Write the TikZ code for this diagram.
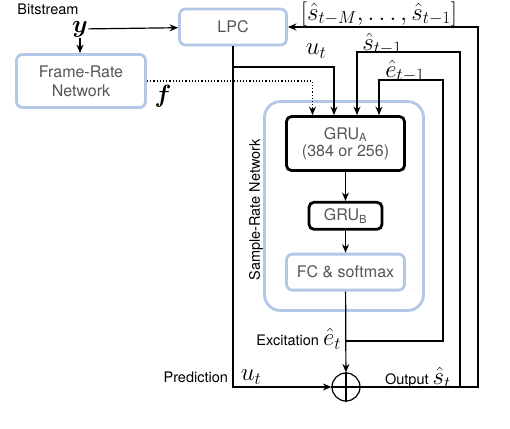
\documentclass[tikz,border=0pt]{standalone}
\usepackage{amsmath}
\usepackage{amssymb}
\usepackage{bm}
\usepackage{fontspec}
\setmainfont{TeX Gyre Heros}
\usetikzlibrary{positioning}
\usetikzlibrary{arrows.meta}
\definecolor{netblue}{RGB}{180,199,231}
\definecolor{nettext}{RGB}{85,85,85}
\newcommand{\symsize}{\fontsize{23.5}{25}\selectfont}
\begin{document}
\begin{tikzpicture}[x=1pt,y=-1pt,>={Stealth[length=8.5pt,width=7pt]},line width=1.2pt,
	node distance=29pt,
	blue box/.style={draw=netblue,line width=2.8pt,rounded corners=6pt,text=nettext,
		font=\fontsize{16}{19}\selectfont,align=center,inner sep=0pt},
	black box/.style={draw=black,line width=2.8pt,rounded corners=5pt,text=nettext,
		font=\fontsize{16}{19}\selectfont,align=center,inner sep=0pt},
	word/.style={font=\fontsize{14.5}{17}\selectfont,inner sep=0.5pt},
	sym/.style={font=\symsize,inner sep=0pt}]

	\useasboundingbox (0,0) rectangle (510,428);

	% boxes
	\node[blue box,minimum width=107pt,minimum height=36pt] (lpc) at (233,27) {LPC};
	\node[blue box,minimum width=129pt,minimum height=53pt] (frn) at (81,81) {Frame-Rate\\Network};
	\node[blue box,rounded corners=16pt,minimum width=159pt,minimum height=209pt] (srn) at (344,206) {};
	\node[black box,minimum width=118pt,minimum height=54pt] (grua) at (345.5,143.5)
		{GRU\textsubscript{A}\\[-2pt](384 or 256)};
	\node[black box,minimum width=73pt,minimum height=27pt] (grub) [below=of grua] {GRU\textsubscript{B}};
	\node[blue box,minimum width=118pt,minimum height=36pt] (fc) [below=22pt of grub] {FC \& softmax};
	\node[draw,circle,minimum size=28pt,inner sep=0pt] (sum) at (346,387) {};
	\draw (sum.north) -- (sum.south) (sum.west) -- (sum.east);

	% labels
	\node[word] (bits) at (48,9) {Bitstream};
	\node[sym] (y) at (80,29) {$\bm{y}$};
	\node[sym] (f) at (163,96) {$\bm{f}$};
	\node[word,rotate=90] (srnlabel) at (256,210) {Sample-Rate Network};
	\node[sym] (past) at (379,14) {$[\hat{s}_{t-M},\ldots,\hat{s}_{t-1}]$};
	\node[sym] (ulab) at (316,51) {$u_t$};
	\node[sym] (slab) at (382,44) {$\hat{s}_{t-1}$};
	\node[sym] (elab) at (405,71) {$\hat{e}_{t-1}$};
	\node[word,anchor=east] (exc) at (342,339) {Excitation {\symsize$\hat{e}_t$}};
	\node[word,anchor=east] (pred) at (229,377) {Prediction};
	\node[sym] (ubot) at (251,377) {$u_t$};
	\node[word,anchor=west] (out) at (384,378) {Output {\symsize$\hat{s}_t$}};

	% corners of the feedback paths
	\coordinate (ubr) at (233,67);
	\coordinate (ebr) at (346,341);
	\coordinate (ecorner) at (443,80);
	\coordinate (sjoin) at (460,387);
	\coordinate (scorner) at (460,52);
	\coordinate (oend) at (478,387);

	% connectors
	\draw[->] (y) -- (lpc);
	\draw[->] (y.south) -- (y.south |- frn.north);
	\draw[->,dotted] (frn.east) -| ([xshift=-33pt]grua.north);
	\draw[->] (lpc.south) |- (sum.west);
	\draw[->] (ubr) -| ([xshift=-11.5pt]grua.north);
	\draw[->] (sjoin) -- (scorner) -| ([xshift=11.5pt]grua.north);
	\draw[->] (ebr) -| (ecorner) -| ([xshift=33.5pt]grua.north);
	\draw[->] (grua) -- (grub);
	\draw[->] (grub) -- (fc);
	\draw[->] (fc) -- (sum);
	\draw[->] (sum.east) -- (oend) |- (lpc.east);
\end{tikzpicture}
\end{document}
